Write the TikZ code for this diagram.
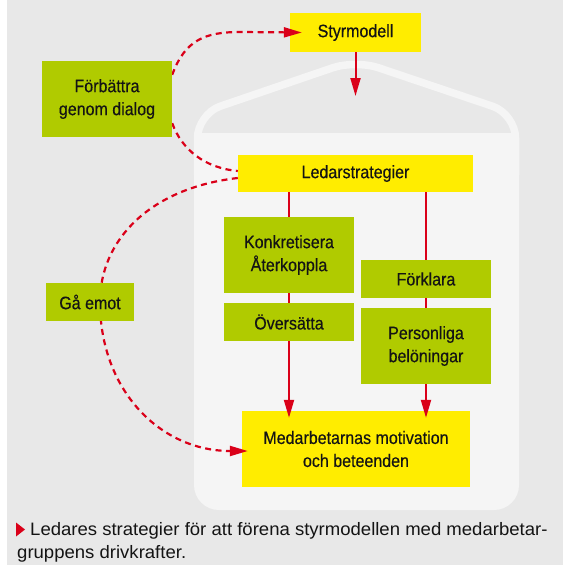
\documentclass[tikz,border=0pt]{standalone}
\usepackage{fontspec}
\newfontfamily\nodefont{Liberation Sans}[FakeStretch=0.89,FakeBold=0.4]
\newfontfamily\capfont{Liberation Sans}[FakeStretch=1.03]
\usetikzlibrary{arrows.meta}
\definecolor{bggray}{HTML}{E8E8E8}
\definecolor{housec}{HTML}{F5F5F5}
\definecolor{ylw}{HTML}{FFED00}
\definecolor{grn}{HTML}{B0CB00}
\definecolor{rd}{HTML}{DA0019}
\definecolor{txt}{HTML}{141414}
\pgfdeclarelayer{house}
\pgfdeclarelayer{boxa}
\pgfdeclarelayer{lines}
\pgfsetlayers{house,boxa,lines,main}
\begin{document}
\begin{tikzpicture}[x=1pt,y=-1pt,
  box/.style={rectangle, inner sep=0pt, align=center, font=\nodefont\fontsize{18}{23}\selectfont, text=txt},
  ybox/.style={box, fill=ylw},
  gbox/.style={box, fill=grn},
  tip/.style={-{Triangle[length=18pt,width=10pt]}},
  link/.style={draw=rd, line width=2pt, tip},
  dlink/.style={draw=rd, line width=2.2pt, dash pattern=on 6pt off 4.5pt},
  captext/.style={font=\capfont\fontsize{18}{22}\selectfont, text=txt, anchor=base west, inner sep=0pt}
]
\useasboundingbox (0,0) rectangle (563,565);
\begin{pgfonlayer}{house}
  \fill[white] (0,0) rectangle (563,565);
  \fill[bggray] (7,0) rectangle (563,565);
  \fill[housec] (194,133) rectangle (519,200);
  \fill[housec, rounded corners=25pt] (194,150) rectangle (519,510);
  \draw[housec, line width=7.5pt, rounded corners=24pt] (197.5,175) -- (197.5,114) -- (355.5,60) -- (515.5,114) -- (515.5,175);
\end{pgfonlayer}

\begin{pgfonlayer}{boxa}
  \node[ybox, minimum width=131pt, minimum height=39pt] (styr) at (355.5,32.5) {Styrmodell};
  \node[ybox, minimum width=235pt, minimum height=37pt] (ledar) at (355.5,173.5) {Ledarstrategier};
  \node[ybox, minimum width=228pt, minimum height=76pt] (medarb) at (356,449) {Medarbetarnas motivation\\och beteenden};
\end{pgfonlayer}

\node[gbox, minimum width=130pt, minimum height=76pt] (forb) at (107,99) {Förbättra\\genom dialog};
\node[gbox, minimum width=130pt, minimum height=76pt] (konk) at (289,255) {Konkretisera\\Återkoppla};
\node[gbox, minimum width=130pt, minimum height=38pt] (overs) at (289,322) {Översätta};
\node[gbox, minimum width=130pt, minimum height=38pt] (forkl) at (426,279) {Förklara};
\node[gbox, minimum width=130pt, minimum height=76pt] (pers) at (426,346) {Personliga\\belöningar};
\node[gbox, minimum width=88pt, minimum height=38pt] (gaemot) at (90,302) {Gå emot};

\coordinate (s1) at (355.5,96);

\begin{pgfonlayer}{lines}
  \draw[link] (styr.south) -- (s1);
  \draw[link, shorten >=-7pt] (konk.north |- ledar.south) -- (konk.north |- medarb.north);
  \draw[link, shorten >=-7pt] (forkl.north |- ledar.south) -- (forkl.north |- medarb.north);
  \draw[dlink, tip] ([yshift=-14pt]forb.north east) .. controls (185,40) and (205,32) .. (240,32) -- ([xshift=12pt]styr.west);
  \draw[dlink] ([yshift=14pt]forb.south east) .. controls (182,150) and (205,168) .. ([yshift=2.5pt]ledar.west);
  \draw[dlink, tip] ([yshift=-4.5pt]ledar.west) .. controls (150,188) and (100,240) .. (100,302) .. controls (100,390) and (160,451) .. ([xshift=6pt,yshift=-2pt]medarb.west);
\end{pgfonlayer}

\fill[rd] (16,522.5) -- (25,529.5) -- (16,536.5) -- cycle;
\node[captext] (cap1) at (30,535) {Ledares strategier för att förena styrmodellen med medarbetar-};
\node[captext] (cap2) at (17,558) {gruppens drivkrafter.};
\end{tikzpicture}
\end{document}
